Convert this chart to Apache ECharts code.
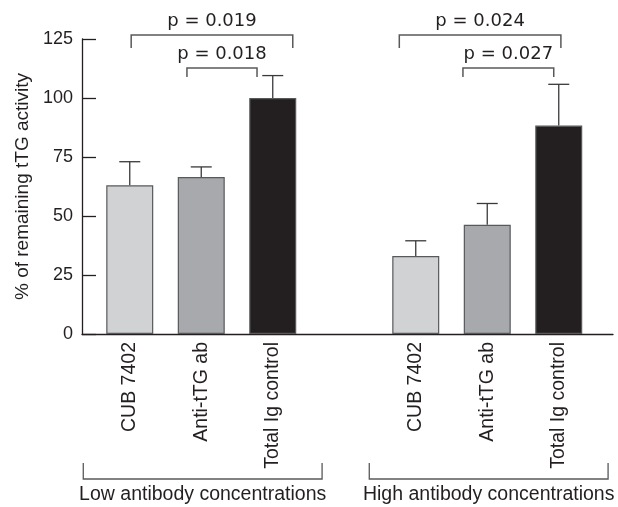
<!DOCTYPE html>
<html>
<head>
<meta charset="utf-8">
<script src="https://cdn.jsdelivr.net/npm/echarts@6/dist/echarts.min.js"></script>
<style>
html,body{margin:0;padding:0;background:#fff;}
#chart{width:618px;height:507px;}
</style>
</head>
<body>
<div id="chart"></div>
<script>
// ---- data ----
const categories = ["CUB 7402", "Anti-tTG ab", "Total Ig control", "", "CUB 7402", "Anti-tTG ab", "Total Ig control"];
const means = [63, 66.5, 100, null, 33, 46.3, 88.3];
const errors = [10, 4.3, 9.5, null, 6.5, 9, 17.5];
const yTicks = [0, 25, 50, 75, 100, 125];
const pLabels = ["p = 0.019", "p = 0.018", "p = 0.024", "p = 0.027"];
const pFrom = [0, 1, 4, 5];
const pTo = [2, 2, 6, 6];
const groupLabels = ["Low antibody concentrations", "High antibody concentrations"];
const groupFrom = [0, 4];
const groupTo = [2, 6];
const yTitle = "% of remaining tTG activity";

// ---- styles ----
const FONT = "Liberation Sans";
const PFONT = "DejaVu Sans";
const INK = "#231f20";
const barColors = ["#d1d2d4", "#a7a9ac", "#231f20"];
const pStyle = [
  {fromOff: 0.02, toOff: 0.28, level: 126.7, drop: 13},
  {fromOff: -0.2, toOff: -0.22, level: 112.7, drop: 9},
  {fromOff: -0.23, toOff: 0.03, level: 126.7, drop: 13},
  {fromOff: -0.34, toOff: -0.07, level: 112.7, drop: 9}
];

const chart = echarts.init(document.getElementById('chart'), null, {renderer: 'canvas'});

const barData = means.map((v, i) => v == null ? null : {
  value: v,
  itemStyle: {color: barColors[i % 4], borderColor: '#58595b', borderWidth: 1.2}
});
const errData = means.map((v, i) => v == null ? null : [i, v, v + errors[i]]).filter(d => d !== null);
const pData = pLabels.map((t, i) => [pFrom[i], pStyle[i].level, pTo[i]]);
const gData = groupLabels.map((t, i) => [groupFrom[i], 0, groupTo[i]]);

chart.setOption({
  animation: false,
  grid: [
    {left: 94, right: 23.5, top: 39, bottom: 173},
    {left: 82, right: 5, top: 39, bottom: 173}
  ],
  xAxis: [
    {gridIndex: 0, type: 'category', data: categories,
     axisLine: {show: false}, axisTick: {show: false},
     axisLabel: {rotate: 90, margin: 8, fontFamily: FONT, fontSize: 19.5, color: INK, interval: 0}},
    {gridIndex: 1, type: 'value', min: 0, max: 1,
     axisLine: {show: true, lineStyle: {color: INK, width: 1.3}},
     axisTick: {show: false}, axisLabel: {show: false}, splitLine: {show: false}}
  ],
  yAxis: [
    {gridIndex: 0, type: 'value', min: 0, max: 125, interval: 25, show: false},
    {gridIndex: 1, type: 'value', min: 0, max: 125, interval: 25,
     name: yTitle, nameLocation: 'middle', nameGap: 45, nameRotate: 90,
     nameTextStyle: {fontFamily: FONT, fontSize: 19, color: INK},
     axisLine: {show: true, lineStyle: {color: INK, width: 1.3}},
     axisTick: {show: true, inside: true, length: 14, lineStyle: {color: INK, width: 1.3}},
     axisLabel: {margin: 9, fontFamily: FONT, fontSize: 18, color: INK,
       formatter: v => yTicks.indexOf(v) >= 0 ? String(v) : ''},
     splitLine: {show: false}}
  ],
  series: [
    {type: 'bar', xAxisIndex: 0, yAxisIndex: 0, data: barData, barWidth: 47},
    {type: 'custom', xAxisIndex: 0, yAxisIndex: 0, clip: false, data: errData,
     renderItem: function (params, api) {
       const base = api.coord([api.value(0), api.value(1)]);
       const top = api.coord([api.value(0), api.value(2)]);
       const hw = 10.5;
       const ls = {stroke: '#3a3a3c', lineWidth: 1.3};
       return {type: 'group', children: [
         {type: 'line', shape: {x1: base[0], y1: base[1], x2: top[0], y2: top[1]}, style: ls},
         {type: 'line', shape: {x1: top[0] - hw, y1: top[1], x2: top[0] + hw, y2: top[1]}, style: ls}
       ]};
     }},
    {type: 'custom', xAxisIndex: 0, yAxisIndex: 0, clip: false, data: pData,
     renderItem: function (params, api) {
       const i = params.dataIndex;
       const st = pStyle[i];
       const slot = api.size([1, 0])[0];
       const a = api.coord([api.value(0), api.value(1)]);
       const b = api.coord([api.value(2), api.value(1)]);
       const x1 = a[0] + st.fromOff * slot, x2 = b[0] + st.toOff * slot, y = a[1];
       const ls = {stroke: '#58595b', lineWidth: 1.5, fill: null};
       return {type: 'group', children: [
         {type: 'polyline', shape: {points: [[x1, y + st.drop], [x1, y], [x2, y], [x2, y + st.drop]]}, style: ls},
         {type: 'text', style: {text: pLabels[i], x: (x1 + x2) / 2, y: y - 14, align: 'center', verticalAlign: 'middle',
           fontFamily: PFONT, fontSize: 18, fill: INK}}
       ]};
     }},
    {type: 'custom', xAxisIndex: 0, yAxisIndex: 0, clip: false, data: gData,
     renderItem: function (params, api) {
       const i = params.dataIndex;
       const slot = api.size([1, 0])[0];
       const a = api.coord([api.value(0), 0]);
       const b = api.coord([api.value(2), 0]);
       const x1 = a[0] - 0.65 * slot, x2 = b[0] + 0.69 * slot;
       const y = a[1] + 145;
       const ls = {stroke: '#58595b', lineWidth: 1.3, fill: null};
       return {type: 'group', children: [
         {type: 'polyline', shape: {points: [[x1, y - 16], [x1, y], [x2, y], [x2, y - 16]]}, style: ls},
         {type: 'text', style: {text: groupLabels[i], x: (x1 + x2) / 2, y: y + 16, align: 'center', verticalAlign: 'middle',
           fontFamily: FONT, fontSize: 19.5, fill: INK}}
       ]};
     }}
  ]
});
</script>
</body>
</html>
